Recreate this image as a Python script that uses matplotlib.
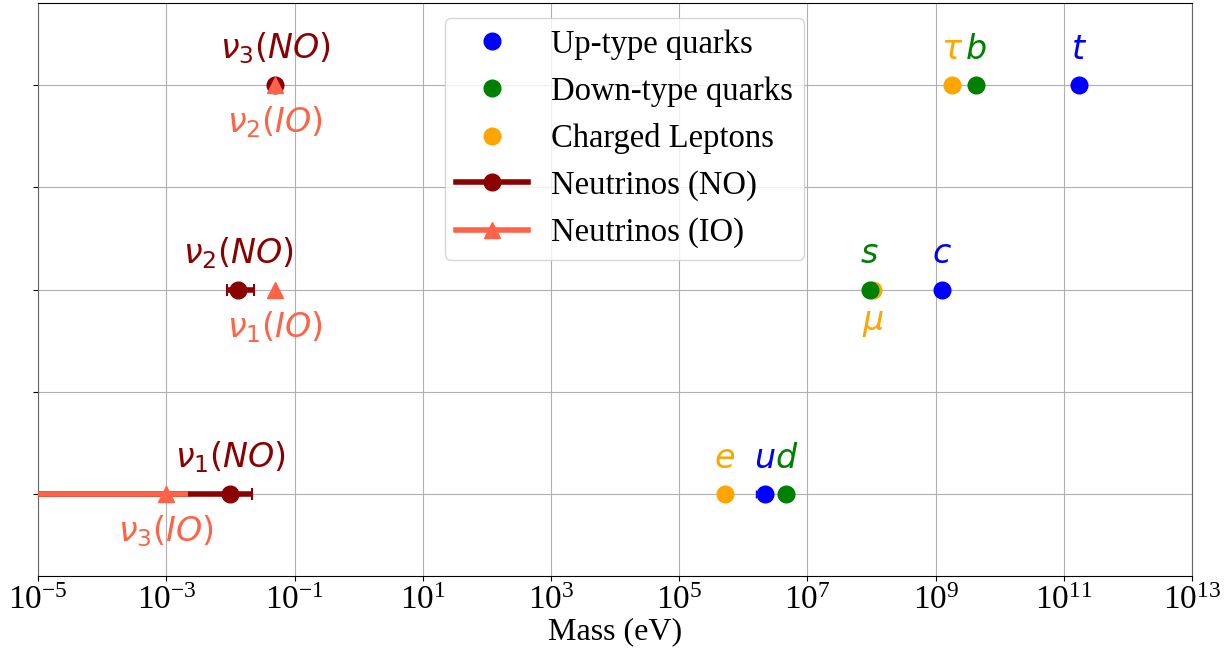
import numpy as np
import matplotlib
matplotlib.use('Agg')
import matplotlib.pyplot as plt
from matplotlib.lines import Line2D
from matplotlib.ticker import NullLocator, NullFormatter

plt.rcParams['font.family'] = 'serif'
plt.rcParams['font.serif'] = ['Liberation Serif', 'DejaVu Serif']
plt.rcParams['mathtext.fontset'] = 'stix'
plt.rcParams['font.size'] = 23

# generation index (1, 2, 3) for each family member
gen = [1, 2, 3]

# masses in eV
up_names = ['u', 'c', 't']
up_mass = [2.2e6, 1.27e9, 1.73e11]
up_err_lo = [0.65e6, 0.02e9, 0.3e9]
up_err_hi = [0.5e6, 0.02e9, 0.3e9]

down_names = ['d', 's', 'b']
down_mass = [4.7e6, 9.3e7, 4.18e9]

lep_names = ['e', r'\mu', r'\tau']
lep_mass = [5.11e5, 1.057e8, 1.777e9]

# neutrinos, normal ordering (nu1, nu2, nu3)
no_names = [r'\nu_1(NO)', r'\nu_2(NO)', r'\nu_3(NO)']
no_mass = [0.010, 0.0132, 0.050]
no_lo = [1e-6, 0.0087, 0.049]
no_hi = [0.022, 0.0234, 0.051]

# inverted ordering, placed on the rows of (nu3, nu1, nu2)
io_names = [r'\nu_3(IO)', r'\nu_1(IO)', r'\nu_2(IO)']
io_mass = [0.001, 0.0495, 0.050]
io_lo = [1e-6, 0.049, 0.0495]
io_hi = [0.0022, 0.050, 0.0505]

c_up, c_down, c_lep = 'blue', 'green', 'orange'
c_no, c_io = '#8B0000', '#FF6347'

fig = plt.figure(figsize=(12.29, 6.58), dpi=100)
ax = fig.add_axes([0.031, 0.125, 0.939, 0.870])

ms = 12
lep_line, = ax.plot(lep_mass, gen, 'o', color=c_lep, ms=ms, ls='none', zorder=3)
up_cont = ax.errorbar(up_mass, gen, xerr=[up_err_lo, up_err_hi], fmt='o', color=c_up,
                      ms=ms, elinewidth=1.5, capsize=3, zorder=4)
down_line, = ax.plot(down_mass, gen, 'o', color=c_down, ms=ms, ls='none', zorder=5)

no_x = np.array(no_mass)
no_err = [no_x - np.array(no_lo), np.array(no_hi) - no_x]
ax.errorbar(no_mass, gen, xerr=no_err, fmt='o', color=c_no, ms=ms,
            elinewidth=4, capsize=4, capthick=1.5, zorder=6)
io_x = np.array(io_mass)
io_err = [io_x - np.array(io_lo), np.array(io_hi) - io_x]
ax.errorbar(io_mass, gen, xerr=io_err, fmt='^', color=c_io, ms=ms,
            elinewidth=4, capsize=0, zorder=7)

# labels above / below the points
def lab(text, x, y, color, above=True):
    if above:
        ax.annotate('$' + text + '$', (x, y), xytext=(0, 19), textcoords='offset points',
                    ha='center', va='baseline', color=color, fontsize=24,
                    math_fontfamily='dejavusans')
    else:
        ax.annotate('$' + text + '$', (x, y), xytext=(0, -14), textcoords='offset points',
                    ha='center', va='top', color=color, fontsize=24,
                    math_fontfamily='dejavusans')

for n, m, g in zip(up_names, up_mass, gen):
    lab(n, m, g, c_up)
for n, m, g in zip(down_names, down_mass, gen):
    lab(n, m, g, c_down)
for n, m, g in zip(lep_names, lep_mass, gen):
    lab(n, m, g, c_lep, above=(n != r'\mu'))
for n, m, g in zip(no_names, no_mass, gen):
    lab(n, m, g, c_no)
for n, m, g in zip(io_names, io_mass, gen):
    lab(n, m, g, c_io, above=False)

ax.set_xscale('log')
ax.set_xlim(1e-5, 1e13)
ax.set_xticks(10.0 ** np.arange(-5, 14, 2))
ax.xaxis.set_minor_locator(NullLocator())
ax.tick_params(axis='x', labelsize=24)
ax.set_ylim(0.6, 3.4)
ax.set_yticks([1, 1.5, 2, 2.5, 3])
ax.yaxis.set_major_formatter(NullFormatter())
ax.grid(True)
for s in ['left', 'right']:
    ax.spines[s].set_color('#666666')
ax.set_xlabel('Mass (eV)', labelpad=1)

no_handle = Line2D([], [], color=c_no, marker='o', ms=ms, lw=4)
io_handle = Line2D([], [], color=c_io, marker='^', ms=ms, lw=4)
ax.legend([up_cont[0], down_line, lep_line, no_handle, io_handle],
          ['Up-type quarks', 'Down-type quarks', 'Charged Leptons',
           'Neutrinos (NO)', 'Neutrinos (IO)'],
          loc='upper center', handlelength=2.2, handletextpad=0.7,
          fontsize=23.5, borderpad=0.35, bbox_to_anchor=(0.508, 1.003))

fig.savefig('out.png', dpi=100)
